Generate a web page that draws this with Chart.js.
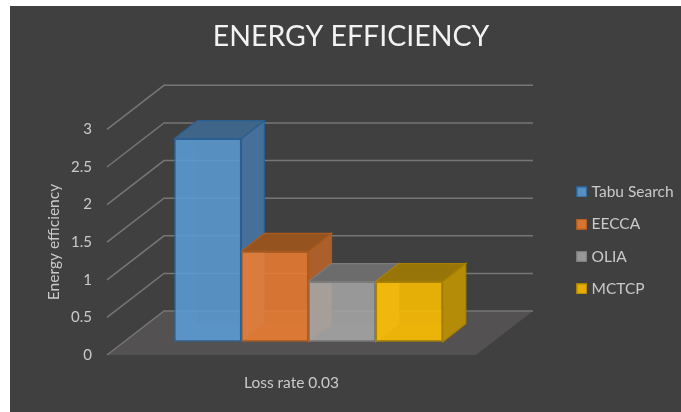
<!DOCTYPE html>
<html>
<head>
<meta charset="utf-8">
<title>Energy efficiency</title>
<script src="https://cdn.jsdelivr.net/npm/chart.js@4/dist/chart.umd.min.js"></script>
<style>
  html, body { margin: 0; padding: 0; background: #ffffff; width: 681px; height: 412px; overflow: hidden; }
  #panel { position: absolute; left: 10px; top: 6px; width: 671px; height: 406px; background: #404040; }
  canvas { display: block; }
</style>
</head>
<body>
<div id="panel"><canvas id="chart" width="671" height="406"></canvas></div>
<script>
const categories = ['Loss rate 0.03'];
const seriesNames = ['Tabu Search', 'EECCA', 'OLIA', 'MCTCP'];
const seriesValues = [[2.7], [1.2], [0.8], [0.8]];
const seriesColors = ['#5B9BD5', '#ED7D31', '#A5A5A5', '#FFC000'];
const borderColors = ['#2A5F91', '#AE5A1C', '#7C7C7C', '#A98000'];
const sideColors   = ['#466F99', '#AB5F2A', '#7A7A7A', '#B58C07'];
const topColors    = ['#3F6588', '#94531F', '#6C6C6C', '#987508'];
const yTicks = [0, 0.5, 1, 1.5, 2, 2.5, 3];

// Oblique projection: the wall sits this far behind the front floor edge,
// and every bar box has its own smaller depth.
const WALL_DX = 57, WALL_DY = 44;
const BAR_DX = 23, BAR_DY = 18;
const BAR_INSET_DX = 17, BAR_INSET_DY = 13.3;

const PX_PER_UNIT = 75.2;
const AXIS_MAX = 3.59;
const BAR_AXIS_MIN = -BAR_INSET_DY / PX_PER_UNIT;

const LABEL_COLOR = '#CACACA';

function poly(ctx, pts, fill, stroke, width) {
  ctx.beginPath();
  pts.forEach((p, i) => i ? ctx.lineTo(p[0], p[1]) : ctx.moveTo(p[0], p[1]));
  ctx.closePath();
  if (fill) { ctx.fillStyle = fill; ctx.fill(); }
  if (stroke) { ctx.strokeStyle = stroke; ctx.lineWidth = width || 1; ctx.stroke(); }
}

function translucent(hex, alpha) {
  const n = parseInt(hex.slice(1), 16);
  return `rgba(${n >> 16},${(n >> 8) & 255},${n & 255},${alpha})`;
}

// Small square legend swatch with its own outline
function swatch(fill, stroke) {
  const c = document.createElement('canvas');
  c.width = 11;
  c.height = 11;
  const g = c.getContext('2d');
  g.fillStyle = '#404040';
  g.fillRect(0, 0, 11, 11);
  g.fillStyle = translucent(fill, 0.87);
  g.fillRect(0.5, 0.5, 10, 10);
  g.strokeStyle = stroke;
  g.lineWidth = 1.2;
  g.strokeRect(0.5, 0.5, 10, 10);
  return c;
}

// Final placement of the boxes that do not follow the plot area
const boxPlacement = {
  id: 'boxPlacement',
  afterLayout(chart) {
    const l = chart.legend;
    l.left = 553;
    l.right = 672;
    l.top = 161.4;
    l.bottom = 330;
    chart.titleBlock.left = 0;
    chart.titleBlock.right = 682;
    // The axis title is centred lower than the middle of the axis
    chart.scales.y.top += 44;
  }
};

const scenePlugin = {
  id: 'scene3d',
  beforeDatasetsDraw(chart) {
    const { ctx, chartArea, scales } = chart;
    const y = scales.y;
    const left = chartArea.left - BAR_INSET_DX;
    const right = chartArea.right - BAR_INSET_DX;
    const y0 = y.getPixelForValue(0);
    ctx.save();
    // Floor
    poly(ctx, [[left, y0], [right, y0], [right + WALL_DX, y0 - WALL_DY], [left + WALL_DX, y0 - WALL_DY]], '#535151');
    // Gridlines: side wall then back wall
    yTicks.forEach(v => {
      const py = y.getPixelForValue(v);
      ctx.beginPath();
      ctx.moveTo(left, py);
      ctx.lineTo(left + WALL_DX, py - WALL_DY);
      ctx.lineTo(right + WALL_DX, py - WALL_DY);
      ctx.strokeStyle = '#767676';
      ctx.lineWidth = 1.5;
      ctx.stroke();
    });
    // Bar boxes, left to right so nearer neighbours overlap correctly
    seriesNames.forEach((name, i) => {
      const bar = chart.getDatasetMeta(i).data[0];
      const x1 = bar.x - bar.width / 2, x2 = bar.x + bar.width / 2;
      const t = bar.y, b = bar.base;
      // Faces seen through the translucent front
      ctx.globalAlpha = 0.16;
      poly(ctx, [[x1, t], [x1 + BAR_DX, t - BAR_DY], [x1 + BAR_DX, b - BAR_DY], [x1, b]], seriesColors[i]);
      poly(ctx, [[x1, b], [x2, b], [x2 + BAR_DX, b - BAR_DY], [x1 + BAR_DX, b - BAR_DY]], seriesColors[i]);
      ctx.globalAlpha = 1;
      // Visible side and top
      poly(ctx, [[x2, t], [x2 + BAR_DX, t - BAR_DY], [x2 + BAR_DX, b - BAR_DY], [x2, b]], sideColors[i], borderColors[i], 1.2);
      poly(ctx, [[x1, t], [x2, t], [x2 + BAR_DX, t - BAR_DY], [x1 + BAR_DX, t - BAR_DY]], topColors[i], borderColors[i], 1.2);
    });
    ctx.restore();
  }
};

const datasets = seriesNames.map((name, i) => ({
  label: name,
  data: seriesValues[i],
  yAxisID: 'yBars',
  backgroundColor: translucent(seriesColors[i], 0.87),
  borderColor: borderColors[i],
  borderWidth: 1.4,
  borderSkipped: false,
  barPercentage: 1,
  categoryPercentage: 0.728
}));

new Chart(document.getElementById('chart'), {
  type: 'bar',
  data: { labels: categories, datasets },
  plugins: [scenePlugin, boxPlacement],
  options: {
    responsive: false,
    animation: false,
    layout: { padding: { top: 0, right: 188, bottom: 0, left: 11 } },
    plugins: {
      tooltip: { enabled: false },
      title: {
        display: true,
        text: 'ENERGY EFFICIENCY',
        color: '#F2F2F2',
        font: { family: 'Lato', size: 28.5, weight: 'normal' },
        fullSize: false,
        padding: { top: 14, bottom: 30.8 }
      },
      legend: {
        position: 'chartArea',
        align: 'start',
        labels: {
          color: LABEL_COLOR,
          font: { family: 'Lato', size: 15.5 },
          usePointStyle: true,
          boxWidth: 4,
          boxHeight: 4,
          padding: 16.8,
          generateLabels() {
            return seriesNames.map((name, i) => ({
              text: name,
              pointStyle: swatch(seriesColors[i], borderColors[i]),
              fillStyle: seriesColors[i],
              strokeStyle: borderColors[i],
              lineWidth: 0,
              fontColor: LABEL_COLOR,
              datasetIndex: i
            }));
          }
        }
      }
    },
    scales: {
      x: {
        afterFit(axis) { axis.height = 57; },
        grid: { display: false, drawTicks: false },
        border: { display: false },
        ticks: { color: LABEL_COLOR, font: { family: 'Lato', size: 15.5 }, labelOffset: -BAR_INSET_DX, padding: 18.4 }
      },
      y: {
        min: 0,
        max: AXIS_MAX,
        afterBuildTicks(axis) { axis.ticks = yTicks.map(value => ({ value })); },
        afterFit(axis) { axis.width = 103; },
        grid: { display: false, drawTicks: false },
        border: { display: false },
        ticks: { color: LABEL_COLOR, font: { family: 'Lato', size: 15 }, padding: 32, autoSkip: false, callback: v => String(v) },
        title: { display: true, text: 'Energy efficiency', color: LABEL_COLOR, font: { family: 'Lato', size: 15.5 }, padding: { top: 23.7, bottom: 0 } }
      },
      yBars: {
        display: false,
        min: BAR_AXIS_MIN,
        max: BAR_AXIS_MIN + AXIS_MAX
      }
    }
  }
});
</script>
</body>
</html>
